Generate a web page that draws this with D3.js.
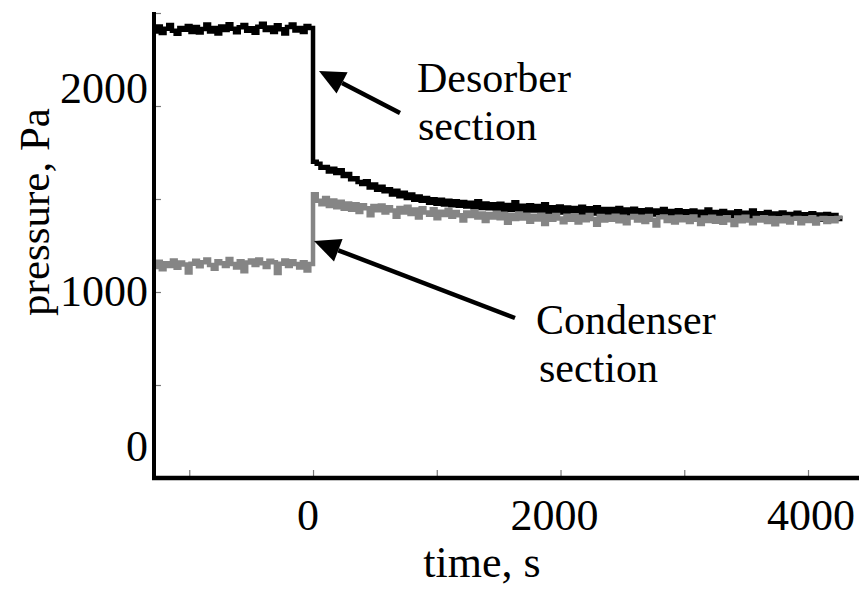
<!DOCTYPE html>
<html>
<head>
<meta charset="utf-8">
<script src="https://cdn.jsdelivr.net/npm/d3@7"></script>
<style>
  html, body { margin: 0; padding: 0; background: #ffffff; }
  svg { display: block; }
  text { font-family: "Liberation Serif", "Times New Roman", serif; fill: #000; }
</style>
</head>
<body>
<svg id="chart" width="859" height="589"></svg>
<script>
// ---------------- data ----------------
const times = [
  -1290,-1260,-1230,-1200,-1170,-1140,-1110,-1080,-1050,-1020,-990,-960,-930,-900,-870,-840,-810,-780,-750,-720,-690,-660,-630,-600,-570,-540,-510,-480,-450,-420,-390,-360,-330,-300,-270,-240,-210,-180,-150,-120,-90,-60,-30,
  0,30,60,90,120,150,180,210,240,270,300,330,360,390,420,450,480,510,540,570,600,630,660,690,720,750,780,810,840,870,900,930,960,990,1020,1050,1080,1110,1140,1170,
  1200,1230,1260,1290,1320,1350,1380,1410,1440,1470,1500,1530,1560,1590,1620,1650,1680,1710,1740,1770,1800,1830,1860,1890,1920,1950,1980,2010,2040,2070,2100,2130,2160,2190,
  2220,2250,2280,2310,2340,2370,2400,2430,2460,2490,2520,2550,2580,2610,2640,2670,2700,2730,2760,2790,2820,2850,2880,2910,2940,2970,3000,3030,3060,3090,3120,3150,3180,3210,
  3240,3270,3300,3330,3360,3390,3420,3450,3480,3510,3540,3570,3600,3630,3660,3690,3720,3750,3780,3810,3840,3870,3900,3930,3960,3990,4020,4050,4080,4110,4140,4170,4200,4230,4260
];

const desorber = [
  2400,2428,2392,2415,2435,2405,2388,2420,2410,2430,
  2398,2425,2395,2414,2438,2400,2420,2390,2428,2408,
  2440,2415,2396,2424,2435,2404,2418,2394,2426,2442,
  2408,2422,2398,2434,2412,2390,2425,2438,2406,2420,
  2398,2430,2420,
  1700,1690,1668,1672,1648,1662,1640,1655,1624,1634,
  1606,1612,1592,1580,1596,1562,1578,1550,1566,1542,
  1552,1524,1544,1515,1534,1506,1524,1496,1514,1490,
  1506,1480,1498,1474,1496,1470,1490,1466,1488,1464,
  1484,1460,1480,1456,1488,1452,1476,1450,1472,1448,
  1474,1444,1468,1442,1482,1440,1464,1438,1466,1438,
  1462,1434,1472,1432,1456,1430,1460,1428,1454,1432,
  1452,1424,1458,1426,1450,1422,1456,1420,1446,1424,
  1446,1418,1452,1420,1444,1414,1448,1418,1440,1412,
  1444,1416,1438,1410,1446,1414,1436,1408,1440,1412,
  1434,1406,1438,1410,1432,1404,1444,1408,1430,1402,
  1436,1406,1428,1400,1434,1404,1426,1398,1438,1402,
  1424,1396,1430,1400,1422,1394,1428,1398,1420,1394,
  1426,1396,1418,1392,1424,1396,1416,1390,1420,1394,
  1414,1392,1410
];

const condenser = [
  1135,1162,1122,1155,1140,1170,1130,1158,1148,1105,
  1152,1168,1138,1160,1175,1145,1125,1165,1155,1140,
  1178,1150,1132,1165,1112,1158,1170,1145,1175,1155,
  1135,1168,1160,1102,1152,1170,1140,1165,1150,1132,
  1160,1115,1150,
  1525,1490,1472,1505,1462,1492,1455,1485,1448,1476,
  1442,1472,1430,1466,1450,1412,1462,1440,1465,1428,
  1455,1438,1405,1452,1428,1458,1420,1444,1400,1450,
  1428,1415,1445,1396,1432,1414,1442,1405,1430,1412,
  1385,1428,1408,1434,1400,1422,1382,1420,1400,1426,
  1396,1418,1372,1415,1392,1422,1395,1412,1378,1410,
  1390,1415,1365,1408,1388,1414,1395,1375,1410,1388,
  1412,1374,1405,1386,1414,1392,1362,1408,1384,1404,
  1388,1410,1380,1404,1370,1400,1408,1385,1404,1376,
  1408,1388,1358,1402,1406,1382,1400,1374,1404,1386,
  1402,1376,1406,1388,1365,1400,1382,1404,1378,1398,
  1372,1402,1386,1360,1400,1380,1404,1384,1370,1398,
  1384,1402,1376,1398,1364,1396,1380,1400,1374,1394,
  1398,1370,1396,1382,1402,1368,1394,1398,1376,1396,
  1380,1398,1392
];

const yTicks = [0, 500, 1000, 1500, 2000, 2500];
const yTickLabels = ["0", "", "1000", "", "2000", ""];
const xTicks = [-1000, 0, 1000, 2000, 3000, 4000];
const xTickLabels = ["", "0", "", "2000", "", "4000"];
const xTitle = "time, s";
const yTitle = "pressure, Pa";
const seriesNames = ["Desorber", "Condenser"];

// ---------------- drawing ----------------
const svg = d3.select("#chart");

const x = d3.scaleLinear().domain([-1285, 4412]).range([154, 859]);
const y = d3.scaleLinear().domain([0, 2500]).range([478, 13]);

const line = d3.line()
  .x((d, i) => x(times[i]))
  .y(d => y(d))
  .curve(d3.curveStepAfter);

// series
svg.append("path")
  .attr("d", line(desorber))
  .attr("fill", "none")
  .attr("stroke", "#000")
  .attr("stroke-width", 4.5)
  .attr("stroke-linejoin", "miter");

svg.append("path")
  .attr("d", line(condenser))
  .attr("fill", "none")
  .attr("stroke", "#858585")
  .attr("stroke-width", 4.5)
  .attr("stroke-linejoin", "miter");

// ticks (inward, thin gray)
const yAxis = d3.axisRight(y).tickValues(yTicks).tickSize(7).tickFormat("");
const gy = svg.append("g").attr("transform", "translate(154,0)").call(yAxis);
gy.select(".domain").remove();
gy.selectAll(".tick line").attr("stroke", "#7a7a7a").attr("stroke-width", 1.2);

const xAxis = d3.axisTop(x).tickValues(xTicks).tickSize(8).tickFormat("");
const gx = svg.append("g").attr("transform", "translate(0,478)").call(xAxis);
gx.select(".domain").remove();
gx.selectAll(".tick line").attr("stroke", "#7a7a7a").attr("stroke-width", 1.2);

// thick axis lines
svg.append("line").attr("x1", 154).attr("x2", 154).attr("y1", y(2500) - 1).attr("y2", 480)
  .attr("stroke", "#000").attr("stroke-width", 4);
svg.append("line").attr("x1", 152).attr("x2", 859).attr("y1", 478).attr("y2", 478)
  .attr("stroke", "#000").attr("stroke-width", 4.5);

// tick labels
const yLabelShift = { "0": -17, "1000": 14, "2000": -3 };
svg.append("g").selectAll("text")
  .data(yTicks.map((v, i) => ({ v, t: yTickLabels[i] })).filter(d => d.t))
  .join("text")
  .attr("x", 148)
  .attr("y", d => y(d.v) + yLabelShift[d.t])
  .attr("text-anchor", "end")
  .attr("font-size", 44)
  .text(d => d.t);

const xLabelShift = { "0": -5, "2000": -6, "4000": 3 };
svg.append("g").selectAll("text")
  .data(xTicks.map((v, i) => ({ v, t: xTickLabels[i] })).filter(d => d.t))
  .join("text")
  .attr("x", d => x(d.v) + xLabelShift[d.t])
  .attr("y", 530)
  .attr("text-anchor", "middle")
  .attr("font-size", 44)
  .text(d => d.t);

// axis titles
svg.append("text")
  .attr("x", 482).attr("y", 577)
  .attr("text-anchor", "middle")
  .attr("font-size", 44)
  .text(xTitle);

svg.append("text")
  .attr("transform", "translate(49,212) rotate(-90)")
  .attr("text-anchor", "middle")
  .attr("font-size", 43)
  .text(yTitle);

// annotations with arrows
function arrow(x1, y1, x2, y2) {
  const ang = Math.atan2(y2 - y1, x2 - x1);
  const L = 26, W = 12;
  const bx = x2 - L * Math.cos(ang), by = y2 - L * Math.sin(ang);
  svg.append("line").attr("x1", x1).attr("y1", y1).attr("x2", bx).attr("y2", by)
    .attr("stroke", "#000").attr("stroke-width", 4.5);
  const px = -Math.sin(ang) * W, py = Math.cos(ang) * W;
  svg.append("path")
    .attr("d", `M${x2},${y2}L${bx + px},${by + py}L${bx - px},${by - py}Z`)
    .attr("fill", "#000");
}
arrow(400, 113, 319, 71);
arrow(515, 318, 314, 241);

const ann = svg.append("g").attr("font-size", 42);
ann.append("text").attr("x", 417).attr("y", 92).text(seriesNames[0]);
ann.append("text").attr("x", 418).attr("y", 140).text("section");
ann.append("text").attr("x", 536).attr("y", 334).text(seriesNames[1]);
ann.append("text").attr("x", 539).attr("y", 382).text("section");
</script>
</body>
</html>
